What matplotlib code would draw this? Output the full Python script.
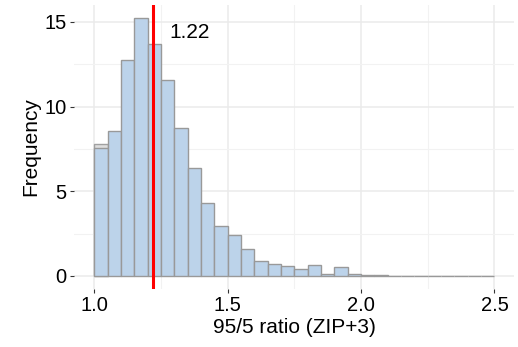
import numpy as np
import matplotlib
matplotlib.use("Agg")
import matplotlib.pyplot as plt

# Histogram of 95/5 ratios, bins of width 0.05 from 1.0 to 2.5
bin_left = np.round(np.arange(1.0, 2.5, 0.05), 2)
frequency = [7.56, 8.57, 12.74, 15.25, 13.71, 11.58, 8.75, 6.38, 4.33, 2.94,
             2.39, 1.62, 0.90, 0.68, 0.61, 0.41, 0.63, 0.12, 0.55, 0.10,
             0.06, 0.05, 0.02, 0.02, 0.02, 0.02, 0.02, 0.02, 0.02, 0.02]
# faint layer behind the first bin
under_left = [1.0]
under_freq = [7.80]

median_ratio = 1.22
bin_width = 0.05

plt.rcParams['font.family'] = ['Liberation Sans', 'DejaVu Sans']

fig = plt.figure(figsize=(5.18, 3.47), dpi=100)
ax = fig.add_axes([0.1438, 0.1677, 0.8494, 0.8179])

ax.bar(under_left, under_freq, width=bin_width, align='edge',
       color='#DEDEDE', edgecolor='#A0A0A0', linewidth=1.0, zorder=2)
ax.bar(bin_left, frequency, width=bin_width, align='edge',
       color='#BCD3EA', edgecolor='#999999', linewidth=1.0, zorder=3)

ax.axvline(median_ratio, color='#FF0000', linewidth=2.2, zorder=4)
ax.text(1.358, 14.35, f"{median_ratio:.2f}", fontsize=15, color='black',
        ha='center', va='center', zorder=5)

ax.set_xlim(0.925, 2.575)
ax.set_ylim(-0.76, 16.0)
ax.set_xticks([1.0, 1.5, 2.0, 2.5])
ax.set_xticklabels(["1.0", "1.5", "2.0", "2.5"])
ax.set_xticks([1.25, 1.75, 2.25], minor=True)
ax.set_yticks([0, 5, 10, 15])
ax.set_yticks([2.5, 7.5, 12.5], minor=True)

ax.grid(which='major', color='#EBEBEB', linewidth=1.1, zorder=0)
ax.grid(which='minor', color='#F2F2F2', linewidth=0.8, zorder=0)
ax.set_axisbelow(True)
for s in ax.spines.values():
    s.set_visible(False)

ax.tick_params(which='major', length=3, width=0.8, color='#333333',
               labelsize=14.5, labelcolor='black', pad=2.5)
ax.tick_params(which='minor', length=0)

ax.set_xlabel("95/5 ratio (ZIP+3)", fontsize=15, labelpad=2)
ax.set_ylabel("Frequency", fontsize=15, labelpad=3)

fig.savefig("out.png", dpi=100, facecolor='white')
